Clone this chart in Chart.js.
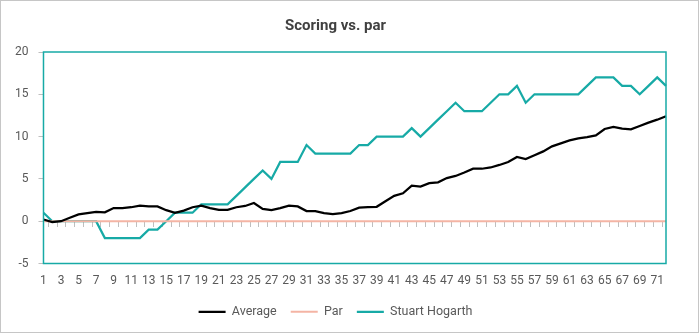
<!DOCTYPE html>
<html>
<head>
<meta charset="utf-8">
<title>Scoring vs. par</title>
<script src="https://cdn.jsdelivr.net/npm/chart.js@4.4.1/dist/chart.umd.min.js"></script>
<style>
  body { margin: 0; background: #fff; }
  #wrap { width: 699px; height: 333px; box-sizing: border-box; border: 1px solid #c6c6c6; background: #fff; }
  canvas { display: block; }
</style>
</head>
<body>
<div id="wrap"><canvas id="scoreChart" width="697" height="331"></canvas></div>
<script>
// Hole numbers across four rounds
const holes = [
  '1','2','3','4','5','6','7','8','9','10','11','12','13','14','15','16','17','18',
  '19','20','21','22','23','24','25','26','27','28','29','30','31','32','33','34','35','36',
  '37','38','39','40','41','42','43','44','45','46','47','48','49','50','51','52','53','54',
  '55','56','57','58','59','60','61','62','63','64','65','66','67','68','69','70','71','72'
];

// Cumulative score relative to par after each hole
const average = [
  0.2, -0.1, 0.0, 0.4, 0.8, 0.95, 1.1, 1.05, 1.55, 1.55, 1.65, 1.85, 1.75, 1.75, 1.3, 1.0, 1.25, 1.65,
  1.85, 1.55, 1.35, 1.35, 1.65, 1.8, 2.15, 1.45, 1.3, 1.55, 1.85, 1.75, 1.2, 1.2, 0.95, 0.85, 0.95, 1.2,
  1.6, 1.65, 1.7, 2.35, 3.0, 3.3, 4.2, 4.1, 4.5, 4.6, 5.1, 5.35, 5.75, 6.2, 6.2, 6.35, 6.65, 7.0,
  7.6, 7.35, 7.8, 8.25, 8.85, 9.2, 9.55, 9.8, 9.95, 10.15, 10.9, 11.15, 10.95, 10.85, 11.25, 11.65, 12.0, 12.4
];

const par = [
  0, 0, 0, 0, 0, 0, 0, 0, 0, 0, 0, 0, 0, 0, 0, 0, 0, 0,
  0, 0, 0, 0, 0, 0, 0, 0, 0, 0, 0, 0, 0, 0, 0, 0, 0, 0,
  0, 0, 0, 0, 0, 0, 0, 0, 0, 0, 0, 0, 0, 0, 0, 0, 0, 0,
  0, 0, 0, 0, 0, 0, 0, 0, 0, 0, 0, 0, 0, 0, 0, 0, 0, 0
];

const stuartHogarth = [
  1, 0, 0, 0, 0, 0, 0, -2, -2, -2, -2, -2, -1, -1, 0, 1, 1, 1,
  2, 2, 2, 2, 3, 4, 5, 6, 5, 7, 7, 7, 9, 8, 8, 8, 8, 8,
  9, 9, 10, 10, 10, 10, 11, 10, 11, 12, 13, 14, 13, 13, 13, 14, 15, 15,
  16, 14, 15, 15, 15, 15, 15, 15, 16, 17, 17, 17, 16, 16, 15, 16, 17, 16
];

const yTicks = [-5, 0, 5, 10, 15, 20];

const TEAL = '#17aaa6';
const FONT = "Roboto, 'Noto Sans', sans-serif";
const TEXT = '#595959';

// small tick marks along the zero line plus the teal frame round the plot area
const plotFrame = {
  id: 'plotFrame',
  beforeDatasetsDraw(chart) {
    const { ctx, scales: { x, y } } = chart;
    const y0 = Math.round(y.getPixelForValue(0));
    ctx.save();
    ctx.strokeStyle = '#bfbfbf';
    ctx.lineWidth = 1;
    ctx.beginPath();
    for (let i = 1; i < holes.length; i++) {
      const px = Math.round((x.getPixelForValue(i - 1) + x.getPixelForValue(i)) / 2) + 0.5;
      ctx.moveTo(px, y0);
      ctx.lineTo(px, y0 + 6);
    }
    ctx.stroke();
    ctx.restore();
  },
  afterDatasetsDraw(chart) {
    const { ctx, chartArea: a } = chart;
    ctx.save();
    ctx.strokeStyle = TEAL;
    ctx.lineWidth = 1.5;
    ctx.strokeRect(a.left, a.top, a.right - a.left, a.bottom - a.top);
    ctx.restore();
  }
};

const lineSet = (label, data, color, width) => ({
  label,
  data,
  borderColor: color,
  backgroundColor: color,
  borderWidth: width,
  pointRadius: 0,
  pointHoverRadius: 0,
  pointBorderWidth: width,
  pointStyle: 'line',
  tension: 0
});

new Chart(document.getElementById('scoreChart'), {
  type: 'line',
  data: {
    labels: holes,
    datasets: [
      lineSet('Average', average, '#000000', 2.25),
      lineSet('Par', par, '#f4b4a4', 2),
      lineSet('Stuart Hogarth', stuartHogarth, TEAL, 2.25)
    ]
  },
  options: {
    responsive: false,
    animation: false,
    layout: { padding: { left: 4, right: 32, top: 0, bottom: 4 } },
    plugins: {
      title: {
        display: true,
        text: 'Scoring vs. par',
        color: '#404040',
        font: { family: FONT, size: 15, weight: 'bold' },
        padding: { top: 16, bottom: 17 }
      },
      legend: {
        position: 'bottom',
        labels: {
          usePointStyle: true,
          pointStyle: 'line',
          pointStyleWidth: 27,
          padding: 14,
          color: TEXT,
          font: { family: FONT, size: 12.5 }
        }
      },
      tooltip: { enabled: false }
    },
    scales: {
      x: {
        grid: { display: false },
        border: { display: false },
        afterFit: (scale) => { scale.height = 28; },
        ticks: {
          autoSkip: false,
          maxRotation: 0,
          minRotation: 0,
          padding: 2,
          color: TEXT,
          font: { family: FONT, size: 12 },
          callback: (v, i) => (i % 2 === 0 ? holes[i] : '')
        }
      },
      y: {
        min: yTicks[0],
        max: yTicks[yTicks.length - 1],
        afterBuildTicks: (scale) => { scale.ticks = yTicks.map(v => ({ value: v })); },
        grid: { drawOnChartArea: false, drawTicks: true, tickLength: 5, color: '#bfbfbf' },
        border: { display: false },
        ticks: {
          padding: 10,
          color: TEXT,
          font: { family: FONT, size: 12 }
        }
      }
    }
  },
  plugins: [plotFrame]
});
</script>
</body>
</html>
